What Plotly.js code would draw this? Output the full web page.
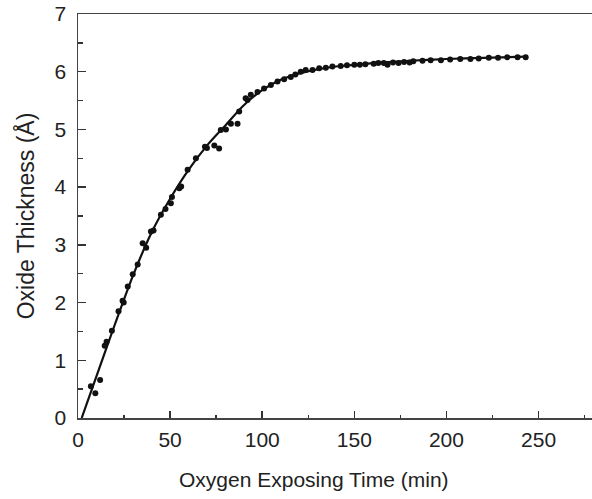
<!DOCTYPE html>
<html>
<head>
<meta charset="utf-8">
<script src="https://cdn.plot.ly/plotly-3.0.1.min.js"></script>
<style>html,body{margin:0;padding:0;background:#fff;}#chart{width:592px;height:499px;}</style>
</head>
<body>
<div id="chart"></div>
<script>
// Measured data points (time in min, oxide thickness in Å)
const timeMin = [7, 9.4, 12, 14.5, 15.5, 18.4, 22, 24.2, 24.8, 27, 29.7, 32.4, 35.1, 37, 39.6, 41, 45, 47.5, 50.4, 51, 55, 56, 59.5, 64, 68.9, 70, 76.6, 74, 77.5, 80.3, 83, 86.6, 87.5, 91, 92, 93.8, 97.4, 101, 104.7, 108.3, 111.9, 115.5, 118, 120.9, 123.6, 127.3, 130.9, 134.5, 138.1, 142.6, 146, 150, 153, 156, 160.5, 163, 166, 168, 171, 174, 177, 180, 182, 187, 191.4, 197, 202, 207.5, 213, 217.5, 223, 228, 233, 238.6, 243];
const thickness = [0.55, 0.43, 0.66, 1.25, 1.32, 1.51, 1.85, 2.03, 2.0, 2.28, 2.49, 2.66, 3.03, 2.95, 3.23, 3.25, 3.52, 3.62, 3.72, 3.83, 3.98, 4.01, 4.3, 4.5, 4.7, 4.68, 4.67, 4.72, 4.99, 5.0, 5.1, 5.1, 5.31, 5.54, 5.51, 5.6, 5.65, 5.71, 5.77, 5.83, 5.87, 5.91, 5.95, 6.0, 6.03, 6.03, 6.06, 6.07, 6.09, 6.1, 6.11, 6.12, 6.12, 6.13, 6.14, 6.15, 6.15, 6.12, 6.16, 6.15, 6.17, 6.16, 6.18, 6.19, 6.2, 6.2, 6.21, 6.22, 6.22, 6.23, 6.24, 6.24, 6.25, 6.25, 6.25];
// Fitted curve
const fitTime = [2, 10, 20, 30, 40, 50, 60, 70, 80, 90, 100, 110, 120, 130, 140, 150, 160, 180, 200, 220, 243];
const fitThick = [0, 0.72, 1.62, 2.48, 3.22, 3.8, 4.3, 4.72, 5.07, 5.42, 5.68, 5.86, 5.97, 6.04, 6.09, 6.12, 6.15, 6.19, 6.22, 6.24, 6.26];

const xTickVals = [0, 50, 100, 150, 200, 250];
const yTickVals = [0, 1, 2, 3, 4, 5, 6, 7];
const xTitle = 'Oxygen Exposing Time (min)';
const yTitle = 'Oxide Thickness (Å)';

const traces = [
  {x: fitTime, y: fitThick, mode: 'lines', line: {color: '#111', width: 2.2, shape: 'spline', smoothing: 0.8}, hoverinfo: 'skip'},
  {x: timeMin, y: thickness, mode: 'markers', marker: {color: '#111', size: 6, symbol: 'circle'}}
];

const fam = 'Liberation Sans, Arial, sans-serif';
const axisFont = {family: fam, size: 21, color: '#222'};
const layout = {
  width: 592, height: 499,
  margin: {l: 78, r: 0, t: 14, b: 81},
  paper_bgcolor: '#fff', plot_bgcolor: '#fff',
  showlegend: false,
  xaxis: {
    range: [0, 279], tickvals: xTickVals, ticks: 'inside', ticklen: 7, tickwidth: 1.5, tickcolor: '#333',
    minor: {dtick: 25, tick0: 0, ticks: 'inside', ticklen: 3, tickwidth: 1.5, tickcolor: '#333'},
    showline: true, linecolor: '#444', linewidth: 1.5, mirror: true, showgrid: false, zeroline: false,
    tickfont: axisFont, ticklabelstandoff: 2
  },
  yaxis: {
    range: [0, 7], tickvals: yTickVals, ticks: 'inside', ticklen: 8, tickwidth: 1.5, tickcolor: '#333',
    minor: {dtick: 0.5, tick0: 0, ticks: 'inside', ticklen: 5, tickwidth: 1.5, tickcolor: '#333'},
    showline: true, linecolor: '#444', linewidth: 1.5, mirror: false, showgrid: false, zeroline: false,
    tickfont: axisFont, ticklabelstandoff: 6,
    title: {text: yTitle, font: {family: fam, size: 23, color: '#222'}, standoff: 13}
  },
  annotations: [{
    text: xTitle, xref: 'paper', yref: 'paper', x: (314 - 78) / 514, y: -62 / 404,
    xanchor: 'center', yanchor: 'middle', showarrow: false,
    font: {family: fam, size: 21, color: '#222'}
  }]
};

Plotly.newPlot('chart', traces, layout, {displayModeBar: false, staticPlot: true});
</script>
</body>
</html>
